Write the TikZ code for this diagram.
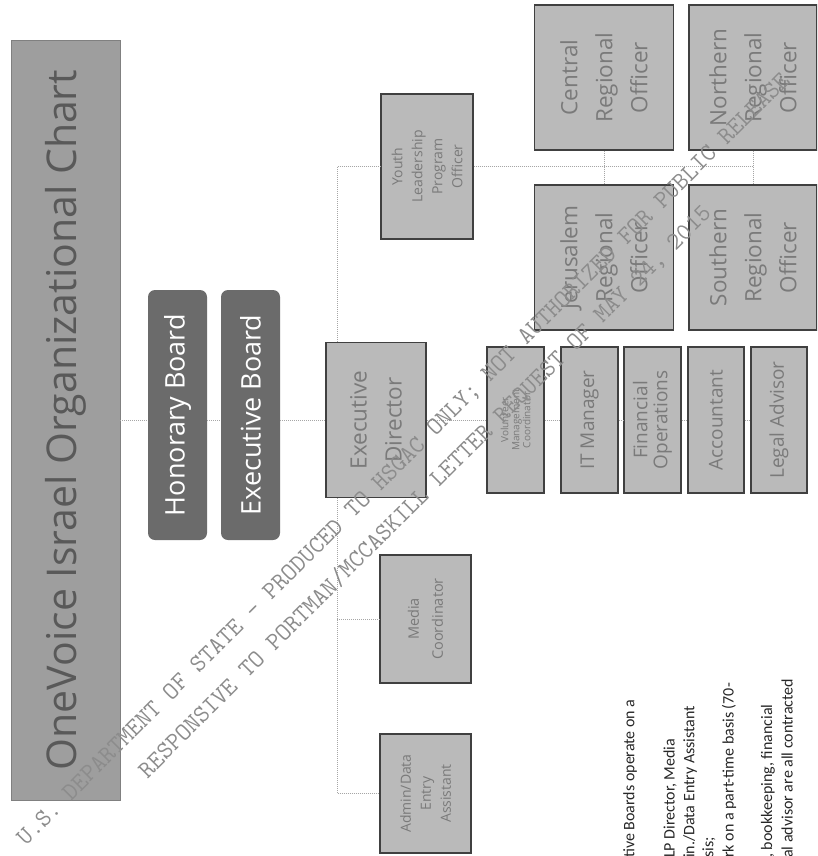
\documentclass[tikz,border=0pt]{standalone}
\usepackage{fontspec}
\setmainfont{Open Sans}
\newfontfamily\notefont{Carlito}

\tikzset{
  chartbox/.style={draw=black!75, line width=1.2pt, fill=black!27, text=black!52,
    rotate=90, align=center, inner sep=2pt},
  boardbox/.style={fill=black!58, text=white, rounded corners=7pt, rotate=90,
    minimum width=250pt, minimum height=59pt, font=\fontsize{27}{30}\selectfont},
  bigtext/.style={font=\fontsize{22.5}{35}\selectfont},
  smalltext/.style={font=\fontsize{14}{20}\selectfont},
  stafftext/.style={font=\fontsize{19}{20}\selectfont},
  link/.style={draw=black!35, densely dotted, line width=1pt},
  note/.style={rotate=90, anchor=west, inner sep=0pt, text=black!85,
    font=\notefont\fontsize{16}{18}\selectfont},
  stamp/.style={rotate=45, text=black!45, font=\ttfamily\fontsize{25}{27}\selectfont},
}

\begin{document}
\begin{tikzpicture}[x=1pt, y=-1pt]
  \useasboundingbox (0,0) rectangle (817,856);
  \clip (0,0) rectangle (817,856);

  % title and boards
  \node[rotate=90, fill=black!38, draw=black!50, text=black!65,
    minimum width=760pt, minimum height=109pt,
    font=\fontsize{41}{45}\selectfont] (title) at (65.5,420) {OneVoice Israel Organizational Chart};
  \node[boardbox] (hon) at (177.5,415) {Honorary Board};
  \node[boardbox] (exb) at (250.5,415) {Executive Board};

  % director and staff
  \node[chartbox, bigtext, minimum width=155pt, minimum height=100pt] (dir) at (376,420) {Executive\\Director};
  \node[chartbox, smalltext, minimum width=145pt, minimum height=92pt] (youth) at (427,166.5) {Youth\\Leadership\\Program\\Officer};
  \node[chartbox, font=\fontsize{14.5}{24}\selectfont, minimum width=128pt, minimum height=91pt] (media) at (425.5,619) {Media\\Coordinator};
  \node[chartbox, smalltext, minimum width=119pt, minimum height=91pt] (admin) at (425.5,793.5) {Admin/Data\\Entry\\Assistant};

  % regional officers
  \node[chartbox, bigtext, minimum width=145pt, minimum height=139pt] (cr) at (604,77.5) {Central\\Regional\\Officer};
  \node[chartbox, bigtext, minimum width=145pt, minimum height=128pt] (nr) at (753,77.5) {Northern\\Regional\\Officer};
  \node[chartbox, bigtext, minimum width=145pt, minimum height=139pt] (jer) at (604,257.5) {Jerusalem\\Regional\\Officer};
  \node[chartbox, bigtext, minimum width=145pt, minimum height=128pt] (sr) at (753,257.5) {Southern\\Regional\\Officer};

  % contracted staff
  \node[chartbox, font=\fontsize{10}{11}\selectfont, minimum width=146pt, minimum height=57pt] (vol) at (515.5,420) {Volunteer\\Management\\Coordinator};
  \node[chartbox, stafftext, minimum width=146pt, minimum height=57pt] (it) at (589.5,420) {IT Manager};
  \node[chartbox, stafftext, minimum width=146pt, minimum height=57pt] (fin) at (652.5,420) {Financial\\Operations};
  \node[chartbox, stafftext, minimum width=146pt, minimum height=56pt] (acc) at (716,420) {Accountant};
  \node[chartbox, stafftext, minimum width=146pt, minimum height=56pt] (legal) at (779,420) {Legal Advisor};

  % connectors
  \coordinate (trunk) at (337,420);
  \draw[link] (title) -- (title -| hon.north);
  \draw[link] (hon.south |- title) -- (exb.north |- title);
  \draw[link] (exb.south |- title) -- (dir);
  \draw[link] (dir) -- (vol);
  \draw[link] (vol) -- (it);
  \draw[link] (it) -- (fin);
  \draw[link] (fin) -- (acc);
  \draw[link] (acc) -- (legal);
  \draw[link] (dir.east -| trunk) |- (youth.north);
  \draw[link] (youth.south) -- (youth.south -| nr);
  \draw[link] (cr.west) -- (jer.east);
  \draw[link] (nr.west) -- (sr.east);
  \draw[link] (dir.west -| trunk) |- (admin.north);
  \draw[link] (trunk |- media) -- (media.north);

  % notes (cut by the page edge)
  \node[note] (n1) at (630,858) {tive Boards operate on a};
  \node[note] (n2) at (670,858) {LP Director, Media};
  \node[note] (n3) at (690,858) {in./Data Entry Assistant};
  \node[note] (n4) at (709,858) {sis;};
  \node[note] (n5) at (729,858) {rk on a part-time basis (70-};
  \node[note] (n6) at (768,858) {, bookkeeping, financial};
  \node[note] (n7) at (787,858) {al advisor are all contracted};

  % stamp
  \node[stamp] (wm1) at (404,460) {U.S. DEPARTMENT OF STATE - PRODUCED TO HSGAC ONLY; NOT AUTHORIZED FOR PUBLIC RELEASE};
  \node[stamp] (wm2) at (425,492) {RESPONSIVE TO PORTMAN/MCCASKILL LETTER REQUEST OF MAY 24, 2015};
\end{tikzpicture}
\end{document}
